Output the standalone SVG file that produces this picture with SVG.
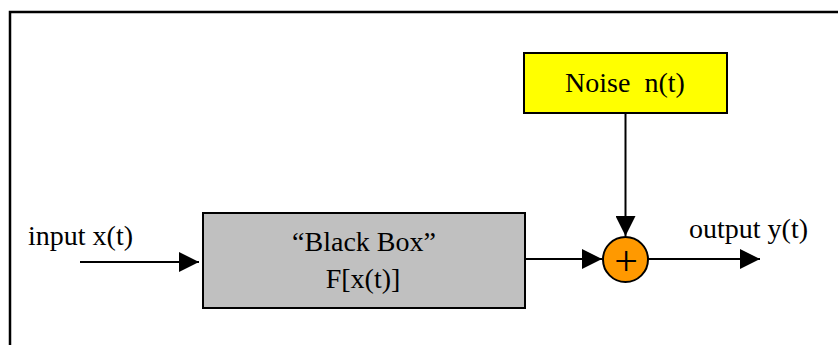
<svg xmlns="http://www.w3.org/2000/svg" width="838" height="345" viewBox="0 0 838 345">
  <style>
    .lbl { font-family: "Liberation Serif", "Times New Roman", serif; font-size: 28px; fill: #000; }
    .box { stroke: #000; stroke-width: 2; }
    .wire { stroke: #000; stroke-width: 2; fill: none; }
  </style>
  <defs>
    <marker id="arrow" viewBox="0 0 20 20" refX="20" refY="10" markerWidth="20" markerHeight="20" markerUnits="userSpaceOnUse" orient="auto">
      <path d="M0,0 L20,10 L0,20 Z" fill="#000"/>
    </marker>
  </defs>

  <rect width="838" height="345" fill="#fff"/>
  <!-- frame (open on the right and bottom) -->
  <path d="M10,345 L10,12 L838,12" fill="none" stroke="#000" stroke-width="2.5"/>

  <g id="noise">
    <rect class="box" x="524" y="53" width="203" height="60" fill="#ffff00"/>
    <text class="lbl" x="625" y="92" text-anchor="middle" xml:space="preserve">Noise  n(t)</text>
  </g>

  <g id="blackbox">
    <rect class="box" x="203" y="213" width="322" height="95" fill="#c0c0c0"/>
    <text class="lbl" x="364" y="251" text-anchor="middle">“Black Box”</text>
    <text class="lbl" x="363" y="288" text-anchor="middle">F[x(t)]</text>
  </g>

  <g id="sum">
    <circle class="box" cx="625.5" cy="259.5" r="22.5" fill="#ff9900"/>
    <text class="lbl" x="626" y="275" text-anchor="middle" style="font-size:42px">+</text>
  </g>

  <g id="input-label">
    <text class="lbl" x="28" y="245">input x(t)</text>
  </g>
  <g id="output-label">
    <text class="lbl" x="689" y="238">output y(t)</text>
  </g>

  <g id="connectors">
    <line class="wire" x1="80" y1="262" x2="199" y2="262" marker-end="url(#arrow)"/>
    <line class="wire" x1="525" y1="259" x2="602" y2="259" marker-end="url(#arrow)"/>
    <line class="wire" x1="625.5" y1="113" x2="625.5" y2="236" marker-end="url(#arrow)"/>
    <line class="wire" x1="648" y1="259" x2="760" y2="259" marker-end="url(#arrow)"/>
  </g>
</svg>
